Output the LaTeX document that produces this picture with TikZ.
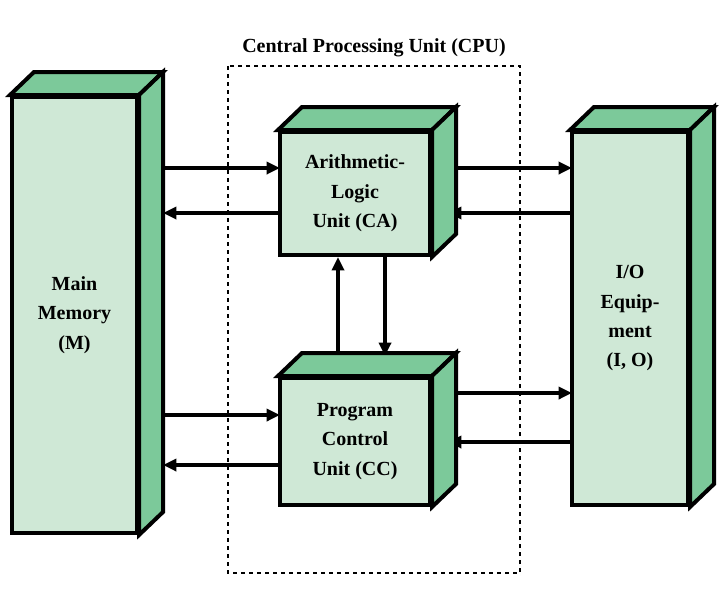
\documentclass[tikz,border=0pt]{standalone}
\usepackage{fontspec}
\setmainfont{Liberation Serif}
\usetikzlibrary{arrows.meta,positioning,calc}
\definecolor{frontgreen}{HTML}{CFE8D6}
\definecolor{sidegreen}{HTML}{7CC99A}
\tikzset{
  unit/.style={draw=black, line width=3pt, fill=frontgreen, inner sep=0pt,
    align=center, font=\bfseries\fontsize{15}{22}\selectfont},
  flow/.style={line width=2.6pt, -{Triangle[length=10pt,width=9pt]}},
  face/.style={draw=black, line width=3pt, fill=sidegreen, line join=miter}
}
% top and side faces of a unit
\newcommand{\cubeface}[1]{%
  \draw[face] (#1.north west) -- ++(24,-23) -- ++($(#1.north east)-(#1.north west)$) -- (#1.north east) -- cycle;
  \draw[face] (#1.north east) -- ++(24,-23) -- ++($(#1.south east)-(#1.north east)$) -- (#1.south east) -- cycle;
}
\begin{document}
\begin{tikzpicture}[x=0.75pt,y=-0.75pt]
  \useasboundingbox (0,0) rectangle (728,607);

  \draw[dashed, line width=0.8pt] (228,66) rectangle (520,573);
  \node[font=\bfseries\fontsize{15}{18}\selectfont] (cpu) at (374,48) {Central Processing Unit (CPU)};

  % arrows first, units drawn on top
  \draw[flow] (150,168) -- (280,168);
  \draw[flow] (280,213) -- (163,213);
  \draw[flow] (440,168) -- (572,168);
  \draw[flow] (572,213) -- (448,213);
  \draw[flow] (150,415) -- (280,415);
  \draw[flow] (280,465) -- (163,465);
  \draw[flow] (440,393) -- (572,393);
  \draw[flow] (572,442) -- (448,442);
  \draw[flow] (338,355) -- (338,257);
  \draw[flow] (385,257) -- (385,356);

  \node[unit, minimum width=125*0.75pt, minimum height=436*0.75pt] (mm) at (74.5,315) {Main\\Memory\\(M)};
  \node[unit, minimum width=150*0.75pt, minimum height=123*0.75pt] (alu) at (355,193.5) {Arithmetic-\\Logic\\Unit (CA)};
  \node[unit, minimum width=150*0.75pt, minimum height=127*0.75pt] (pcu) at (355,441.5) {Program\\Control\\Unit (CC)};
  \node[unit, minimum width=116*0.75pt, minimum height=373*0.75pt] (io) at (630,318.5) {I/O\\Equip-\\ment\\(I, O)};

  \foreach \n in {mm,alu,pcu,io}
    {\cubeface{\n}}
\end{tikzpicture}
\end{document}
